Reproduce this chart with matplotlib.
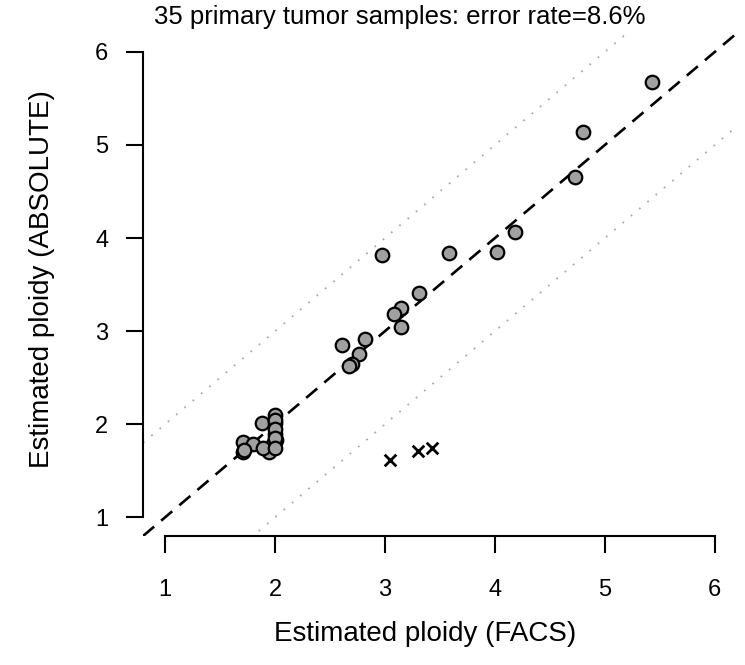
import matplotlib.pyplot as plt
import numpy as np

plt.rcParams['font.family'] = ['Liberation Sans', 'DejaVu Sans']

# ploidy estimates, FACS vs ABSOLUTE (concordant calls)
facs_ok = [5.43, 4.80, 4.73, 4.18, 4.02, 3.58, 2.97, 3.31, 3.15, 3.08,
           3.15, 2.82, 2.61, 2.76, 2.70, 2.67,
           1.88, 2.00, 2.00, 2.00, 1.98, 1.95, 1.71, 1.80, 1.71, 1.89,
           2.01, 2.00, 2.00, 2.00, 2.00, 1.72]
abs_ok = [5.68, 5.14, 4.66, 4.07, 3.85, 3.84, 3.82, 3.41, 3.25, 3.18,
          3.05, 2.92, 2.85, 2.76, 2.65, 2.63,
          2.01, 2.10, 2.01, 1.90, 1.79, 1.70, 1.81, 1.79, 1.70, 1.74,
          1.83, 2.05, 1.95, 1.85, 1.75, 1.72]

# discordant calls
facs_err = [3.05, 3.30, 3.43]
abs_err = [1.62, 1.71, 1.74]

n = len(facs_ok) + len(facs_err)
err = 100.0 * len(facs_err) / n

fig = plt.figure(figsize=(7.45, 6.65), dpi=100)
ax = fig.add_axes([0.192, 0.194, 0.797, 0.756])
ax.set_xlim(0.8, 6.2)
ax.set_ylim(0.8, 6.2)

xx = np.array([0.8, 6.2])
ax.plot(xx, xx, color='black', lw=1.9, linestyle=(0, (5.5, 3.5)))
ax.plot(xx, xx + 1, color='#aaaaaa', lw=1.3, linestyle=(0, (1, 5)))
ax.plot(xx, xx - 1, color='#aaaaaa', lw=1.3, linestyle=(0, (1, 5)))

ax.scatter(facs_ok, abs_ok, s=95, c='#a0a0a0', edgecolors='black',
           linewidths=1.6, zorder=3)
ax.scatter(facs_err, abs_err, marker='x', s=70, c='black',
           linewidths=2.0, zorder=3)

for side in ['top', 'right']:
    ax.spines[side].set_visible(False)
for side in ['left', 'bottom']:
    ax.spines[side].set_bounds(1, 6)
    ax.spines[side].set_linewidth(1.5)

ticks = [1, 2, 3, 4, 5, 6]
ax.set_xticks(ticks)
ax.set_yticks(ticks)
ax.tick_params(axis='both', length=12, width=1.5, labelsize=17)
ax.tick_params(axis='x', pad=19)
ax.tick_params(axis='y', pad=13)

fig.text(0.537, 0.974, '%d primary tumor samples: error rate=%.1f%%' % (n, err),
         ha='center', va='center', fontsize=18.5)
fig.text(0.570, 0.047, 'Estimated ploidy (FACS)', ha='center', va='center',
         fontsize=20)
fig.text(0.056, 0.581, 'Estimated ploidy (ABSOLUTE)', ha='center',
         va='center', rotation=90, fontsize=20)

fig.savefig('out.png', dpi=100)
